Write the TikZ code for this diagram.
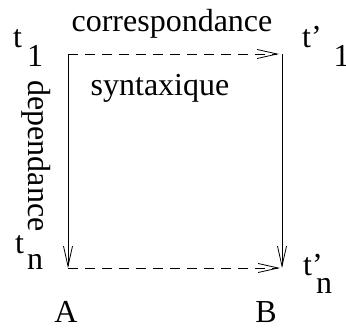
\documentclass[tikz,border=0pt]{standalone}
\usepackage{fontspec}
\setmainfont{Liberation Serif}
\usetikzlibrary{arrows.meta}

\begin{document}
\begin{tikzpicture}[x=1pt, y=-1pt,
    lbl/.style={font=\fontsize{32}{38}\selectfont, inner sep=0pt},
    link/.style={-{Straight Barb[length=20pt, width=9pt]}, line width=0.8pt},
    corr/.style={link, dash pattern=on 10pt off 7pt}
]
\useasboundingbox (0,0) rectangle (346,329);

% Corners of the square
\coordinate (a1) at (68,54);
\coordinate (b1) at (282,54);
\coordinate (an) at (68,268);
\coordinate (bn) at (282,268);

% Arrows
\draw[link] (a1) -- (an);
\draw[link] (b1) -- (bn);
\draw[corr, shorten >=3pt] (a1) -- (b1);
\draw[corr, shorten >=2pt] (an) -- (bn);

% Labels
\node[lbl, anchor=base] (corresp) at (172,32) {correspondance};
\node[lbl, anchor=base] (syntax) at (160,96) {syntaxique};
\node[lbl, anchor=base, rotate=-90] (dep) at (28,156) {dependance};

% Indices
\node[lbl, anchor=base west] (t1) at (13,48) {t\hspace{5pt}\raisebox{-19pt}{1}};
\node[lbl, anchor=base west] (tn) at (15,253) {t\hspace{3pt}\raisebox{-17pt}{n}};
\node[lbl, anchor=base west] (tp1) at (302,48) {t'\hspace{12pt}\raisebox{-19pt}{1}};
\node[lbl, anchor=base west] (tpn) at (303,275) {t\rlap{'}\hspace{4pt}\raisebox{-18pt}{n}};

\node[lbl, anchor=base] (A) at (66,322) {A};
\node[lbl, anchor=base] (B) at (266,322) {B};

\end{tikzpicture}
\end{document}
